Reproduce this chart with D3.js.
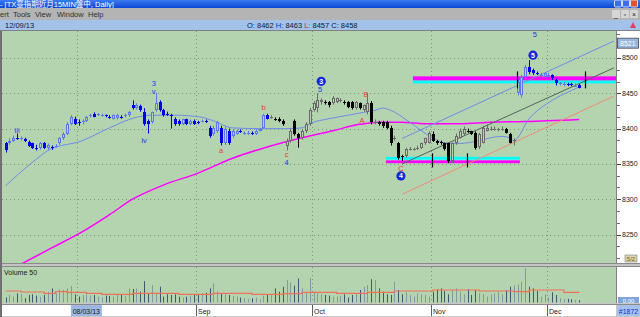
<!DOCTYPE html>
<html>
<head>
<meta charset="utf-8">
<script src="https://cdn.jsdelivr.net/npm/d3@7"></script>
<style>
  html, body { margin: 0; padding: 0; background: #fff; overflow: hidden; }
  svg { display: block; font-family: "Liberation Sans", Arial, "Noto Sans CJK TC", sans-serif; }
</style>
</head>
<body>
<div id="chart"></div>
<script>
// ---------- data (daily bars, index 0 = Jul 13 2013, 149 = Dec 9 2013) ----------
const opens = [8379,8379,8383,8387,8386,8385,8381,8379,8373,8373,8379,8373,8374,8375,8379,8386,8393,8407,8414,8409,
  8409,8411,8419,8421,8420,8419,8419,8417,8414,8415,8417,8418,8419,8433,8429,8432,8423,8411,8409,8426,
  8437,8426,8421,8419,8413,8411,8407,8413,8407,8411,8409,8411,8411,8401,8393,8397,8401,8380,8397,8390,
  8393,8397,8394,8394,8394,8393,8397,8401,8419,8416,8414,8414,8411,8376,8383,8411,8393,8387,8397,8407,
  8426,8429,8437,8438,8437,8436,8437,8440,8438,8437,8437,8429,8436,8426,8423,8436,8409,8409,8409,8409,
  8401,8386,8379,8361,8361,8371,8371,8372,8373,8379,8380,8393,8383,8381,8379,8379,8354,8379,8387,8393,
  8397,8396,8394,8374,8380,8397,8400,8400,8399,8400,8400,8393,8383,8451,8447,8473,8487,8483,8479,8476,
  8473,8476,8476,8469,8464,8463,8463,8463,8461,8462];
const highs = [8381,8386,8390,8393,8389,8387,8383,8380,8377,8381,8381,8379,8376,8378,8388,8395,8409,8419,8417,8413,
  8413,8418,8421,8423,8422,8421,8420,8419,8420,8421,8419,8421,8425,8440,8436,8434,8429,8413,8424,8451,
  8440,8428,8424,8421,8416,8413,8414,8414,8413,8413,8411,8413,8413,8404,8404,8411,8404,8403,8400,8399,
  8399,8399,8396,8397,8396,8399,8401,8421,8421,8419,8416,8416,8413,8386,8400,8413,8394,8399,8409,8429,
  8439,8450,8443,8440,8439,8446,8444,8443,8440,8439,8439,8439,8437,8434,8450,8439,8413,8411,8411,8411,
  8404,8390,8381,8363,8373,8374,8373,8376,8380,8387,8396,8396,8384,8383,8380,8380,8380,8393,8400,8403,
  8400,8397,8396,8394,8404,8406,8403,8403,8401,8403,8401,8394,8386,8469,8476,8490,8497,8485,8481,8479,
  8480,8479,8477,8471,8466,8466,8465,8465,8464,8463];
const lows = [8366,8377,8381,8384,8383,8381,8374,8371,8369,8370,8371,8370,8370,8373,8377,8384,8391,8405,8405,8404,
  8406,8409,8416,8416,8418,8417,8416,8414,8413,8413,8414,8416,8417,8427,8427,8424,8404,8393,8407,8424,
  8424,8417,8418,8400,8404,8404,8405,8405,8405,8405,8406,8409,8408,8387,8390,8394,8376,8377,8377,8387,
  8391,8394,8391,8391,8391,8391,8396,8400,8413,8414,8411,8409,8404,8369,8380,8390,8373,8384,8394,8404,
  8424,8423,8434,8434,8430,8434,8436,8437,8434,8429,8427,8427,8427,8424,8420,8406,8406,8404,8401,8399,
  8376,8383,8356,8354,8359,8369,8369,8370,8371,8377,8379,8381,8377,8377,8369,8351,8351,8377,8386,8391,
  8394,8391,8370,8371,8379,8396,8397,8397,8396,8397,8393,8379,8376,8447,8444,8470,8477,8476,8476,8473,
  8471,8473,8469,8461,8461,8460,8460,8460,8459,8457];
const closes = [8369,8383,8387,8386,8386,8383,8376,8373,8372,8380,8373,8377,8373,8376,8386,8393,8407,8416,8407,8408,
  8411,8416,8419,8417,8420,8419,8418,8416,8419,8419,8416,8419,8423,8429,8433,8426,8407,8407,8423,8436,
  8426,8419,8420,8418,8407,8407,8413,8407,8411,8407,8408,8411,8410,8390,8401,8409,8379,8400,8380,8397,
  8397,8396,8394,8394,8393,8397,8400,8419,8414,8416,8413,8411,8407,8383,8397,8393,8386,8397,8407,8426,
  8436,8440,8440,8437,8433,8443,8443,8440,8437,8430,8429,8437,8429,8433,8436,8409,8409,8407,8404,8401,
  8379,8386,8359,8360,8371,8371,8371,8373,8379,8386,8394,8383,8380,8380,8371,8354,8379,8390,8397,8400,
  8396,8393,8373,8393,8401,8401,8400,8400,8399,8400,8394,8380,8384,8466,8473,8487,8480,8479,8478,8476,
  8479,8476,8471,8464,8464,8463,8462,8462,8461,8458];
// volume, thousand lots
const volumes = [15,23,18,28,25,13,23,25,21,18,23,33,43,28,40,39,43,50,25,18,
  23,25,21,23,18,15,21,20,18,26,23,20,43,41,43,33,65,28,53,25,
  48,18,25,23,25,18,15,18,21,23,25,28,30,43,58,33,28,25,23,20,
  18,15,13,11,13,15,10,21,25,23,43,33,48,68,61,51,73,43,30,75,
  33,28,25,23,21,18,18,20,25,15,23,28,38,48,53,71,68,43,33,25,
  23,63,38,25,31,23,18,28,25,23,18,33,40,43,35,25,40,43,33,25,
  40,23,38,28,25,18,25,28,33,25,38,48,52,55,63,105,48,43,35,18,
  25,15,31,23,13,10,11,10,8,7];
// moving averages as read points [bar index, value]
const shortMA = [[0,8319],[9,8361],[11,8369],[20,8383],[27,8401],[34,8416],[38,8419],[44,8419],[51,8416],[54,8411],
  [59,8401],[66,8400],[73,8400],[77,8401],[79,8407],[84,8414],[89,8419],[93,8423],[96,8426],[98,8429],
  [100,8426],[105,8409],[110,8390],[114,8380],[118,8379],[123,8383],[126,8387],[129,8389],[131,8387],[132,8383],
  [136,8414],[142,8440],[147,8454],[149,8459]];
const longMA = [[3,8205],[12,8231],[20,8254],[27,8278],[33,8300],[41,8320],[50,8337],[59,8358],[68,8374],[77,8387],
  [85,8397],[92,8406],[97,8409],[103,8409],[109,8407],[118,8407],[126,8409],[135,8410],[149,8413]];
const volumeMA = [[0,35],[4,32],[10,28],[13,33],[16,31],[21,28],[25,25],[33,28],[45,25],[54,28],[64,25],[72,27],
  [77,31],[86,28],[94,31],[101,35],[111,38],[123,35],[132,33],[136,38],[145,31],[149,31]];
// drawn objects
const upperBand = {from: 105.8, to: 160, magenta: [8468, 8474], cyan: [8464, 8468]};
const lowerBand = {from: 98.8, to: 133.6, cyan: [8356, 8360], magenta: [8351, 8355]};
const upperBandMarks = [132.8, 150.5];
const lowerBandMarks = [110.7, 119.9];
const channelTop = [[103, 8386], [158, 8524]];
const channelMid = [[103, 8350], [158, 8486]];
const channelLow = [[103, 8307], [158, 8446]];
const waveLabels = [
  {t: "iii", i: 3, v: 8397, c: "blue"}, {t: "3", i: 38.5, v: 8464, c: "blue"}, {t: "v", i: 38.5, v: 8453, c: "blue"},
  {t: "iv", i: 36, v: 8384, c: "blue"}, {t: "a", i: 56, v: 8369, c: "red"}, {t: "b", i: 67, v: 8430, c: "red"},
  {t: "c", i: 73, v: 8363, c: "red"}, {t: "4", i: 73, v: 8352, c: "blue"}, {t: "5", i: 81.7, v: 8456, c: "blue"},
  {t: "B", i: 93.6, v: 8449, c: "red"}, {t: "A", i: 92.6, v: 8411, c: "red"}, {t: "C", i: 102.7, v: 8344, c: "red"},
  {t: "5", i: 137.5, v: 8534, c: "blue"}
];
const waveCircles = [{t: "3", i: 82, v: 8467}, {t: "4", i: 102.7, v: 8333}, {t: "5", i: 137, v: 8504}];
const colorBreaks = [69, 133];   // bars 69..132 drawn black, the rest blue
const priceTicks = [8250, 8300, 8350, 8400, 8450, 8500];
const lastMark = 8521;
const monthTicks = [19, 50, 80, 111, 141];
const monthLabels = ["Aug", "Sep", "Oct", "Nov", "Dec"];
const cursorDate = {i: 21, label: "08/03/13"};
const quote = {date: "12/09/13", o: 8462, h: 8463, l: 8457, c: 8458};

// ---------- layout ----------
const W = 640, H = 317;
const plot = {x0: 2, x1: 616, y0: 31, y1: 263};
const vol = {y0: 267, y1: 303};
const green = "#b4d4b0";
const gridCol = "#7e977c";

const svg = d3.select("#chart").append("svg").attr("width", W).attr("height", H);

const x = d3.scaleLinear().domain([0, 149]).range([5.5, 579.2]);
const y = d3.scaleLinear().domain([8250, 8500]).range([234.5, 58]);
const yv = d3.scaleLinear().domain([0, 105]).range([302.5, 268]);

const defs = svg.append("defs");
const tg = defs.append("linearGradient").attr("id", "titleGrad").attr("x1", 0).attr("y1", 0).attr("x2", 0).attr("y2", 1);
tg.append("stop").attr("offset", "0%").attr("stop-color", "#3a7cf2");
tg.append("stop").attr("offset", "100%").attr("stop-color", "#0a48d4");
defs.append("clipPath").attr("id", "plotClip").append("rect")
  .attr("x", plot.x0).attr("y", plot.y0).attr("width", plot.x1 - plot.x0).attr("height", plot.y1 - plot.y0);
defs.append("clipPath").attr("id", "volClip").append("rect")
  .attr("x", plot.x0).attr("y", vol.y0).attr("width", plot.x1 - plot.x0).attr("height", vol.y1 - vol.y0);

// ---------- window chrome ----------
svg.append("rect").attr("width", W).attr("height", H).attr("fill", "#c8c8c8");
svg.append("rect").attr("x", 0).attr("y", 0).attr("width", W).attr("height", 8).attr("fill", "url(#titleGrad)");
svg.append("text").attr("x", 0).attr("y", 7).attr("fill", "#fff").attr("font-size", 7.5)
  .text("- [TX臺指期近月15MIN盤中, Daily]");
[[614, "#3a6ee8"], [622, "#3a6ee8"], [630, "#e0502a"]].forEach(([bx, col]) => {
  svg.append("rect").attr("x", bx + 0.5).attr("y", 0).attr("width", 7).attr("height", 7)
    .attr("fill", col).attr("stroke", "#fff").attr("stroke-width", 0.8).attr("rx", 1);
});
svg.append("rect").attr("x", 0).attr("y", 8).attr("width", W).attr("height", 12).attr("fill", "#b4b4b4");
[["ert", 0], ["Tools", 13], ["View", 35], ["Window", 57], ["Help", 88]].forEach(([t, mx]) => {
  svg.append("text").attr("x", mx).attr("y", 17).attr("font-size", 7.5).attr("fill", "#303030").text(t);
});
[["_", 612], ["▫", 621], ["×", 630]].forEach(([t, bx]) => {
  svg.append("rect").attr("x", bx).attr("y", 10).attr("width", 8).attr("height", 8).attr("fill", "#d6d6d6");
  svg.append("text").attr("x", bx + 4).attr("y", 16.5).attr("font-size", 7).attr("text-anchor", "middle")
    .attr("fill", "#222").text(t);
});
svg.append("rect").attr("x", 0).attr("y", 20).attr("width", W).attr("height", 10).attr("fill", "#a2c2ea");
svg.append("line").attr("x1", 0).attr("x2", W).attr("y1", 30.5).attr("y2", 30.5).attr("stroke", "#808080");

const info = svg.append("g").attr("font-size", 7.5).attr("fill", "#101830");
info.append("text").attr("x", 5).attr("y", 27.5).text(quote.date);
const q = info.append("text").attr("x", 247).attr("y", 27.5);
q.append("tspan").text("O: " + quote.o + "   ");
q.append("tspan").attr("fill", "#1030d0").text("H: ");
q.append("tspan").text(quote.h + "   ");
q.append("tspan").attr("fill", "#e02020").text("L: ");
q.append("tspan").text(quote.l + "   C: " + quote.c);
info.append("path").attr("d", "M630,28 L633,22 L636,28 Z").attr("fill", "#e04060");

// ---------- panels ----------
svg.append("rect").attr("x", 0).attr("y", plot.y0).attr("width", 2).attr("height", H - plot.y0).attr("fill", "#707070");
svg.append("rect").attr("x", plot.x0).attr("y", plot.y0).attr("width", plot.x1 - plot.x0)
  .attr("height", plot.y1 - plot.y0).attr("fill", green);
svg.append("rect").attr("x", plot.x1).attr("y", plot.y0).attr("width", W - plot.x1)
  .attr("height", plot.y1 - plot.y0).attr("fill", "#fff");
svg.append("rect").attr("x", 2).attr("y", plot.y1).attr("width", W - 2).attr("height", vol.y0 - plot.y1).attr("fill", "#c4c4c4");
svg.append("line").attr("x1", 2).attr("x2", W).attr("y1", plot.y1 + 0.5).attr("y2", plot.y1 + 0.5).attr("stroke", "#8a8a8a");
svg.append("line").attr("x1", 2).attr("x2", W).attr("y1", vol.y0 - 0.5).attr("y2", vol.y0 - 0.5).attr("stroke", "#8a8a8a");
svg.append("rect").attr("x", plot.x0).attr("y", vol.y0).attr("width", plot.x1 - plot.x0)
  .attr("height", vol.y1 - vol.y0).attr("fill", green);
svg.append("rect").attr("x", plot.x1).attr("y", vol.y0).attr("width", W - plot.x1)
  .attr("height", vol.y1 - vol.y0).attr("fill", "#fff");
svg.append("rect").attr("x", 2).attr("y", 305).attr("width", plot.x1 - 2).attr("height", 11).attr("fill", "#fff");
svg.append("line").attr("x1", 2).attr("x2", W).attr("y1", 304.5).attr("y2", 304.5).attr("stroke", "#8a8a8a");
[plot.x1 + 0.5].forEach(lx => {
  svg.append("line").attr("x1", lx).attr("x2", lx).attr("y1", plot.y0).attr("y2", plot.y1).attr("stroke", "#808080");
  svg.append("line").attr("x1", lx).attr("x2", lx).attr("y1", vol.y0).attr("y2", vol.y1).attr("stroke", "#808080");
});

// ---------- grid ----------
const grid = svg.append("g").attr("stroke", gridCol).attr("stroke-dasharray", "1,3");
grid.selectAll("line.h").data(priceTicks).join("line")
  .attr("x1", plot.x0).attr("x2", plot.x1)
  .attr("y1", d => Math.round(y(d)) + 0.5).attr("y2", d => Math.round(y(d)) + 0.5);
grid.selectAll("line.v").data(monthTicks).join("line")
  .attr("x1", d => Math.round(x(d - 0.4)) + 0.5).attr("x2", d => Math.round(x(d - 0.4)) + 0.5)
  .attr("y1", plot.y0).attr("y2", plot.y1);
const vgrid = svg.append("g").attr("stroke", gridCol).attr("stroke-dasharray", "1,3");
vgrid.selectAll("line").data(monthTicks).join("line")
  .attr("x1", d => Math.round(x(d - 0.4)) + 0.5).attr("x2", d => Math.round(x(d - 0.4)) + 0.5)
  .attr("y1", vol.y0).attr("y2", vol.y1);

// ---------- price pane ----------
const pane = svg.append("g").attr("clip-path", "url(#plotClip)");
const line = d3.line().x(d => x(d[0])).y(d => y(d[1]));
const smooth = d3.line().x(d => x(d[0])).y(d => y(d[1])).curve(d3.curveMonotoneX);

// horizontal zones
[[upperBand.magenta, "#ff00ff", upperBand], [upperBand.cyan, "#00ffff", upperBand],
 [lowerBand.cyan, "#00ffff", lowerBand], [lowerBand.magenta, "#ff00ff", lowerBand]].forEach(([r, col, b]) => {
  pane.append("rect").attr("x", x(b.from)).attr("width", x(b.to) - x(b.from))
    .attr("y", y(r[1])).attr("height", y(r[0]) - y(r[1])).attr("fill", col);
});

// moving averages
pane.append("path").datum(longMA).attr("d", smooth).attr("fill", "none")
  .attr("stroke", "#ff00ff").attr("stroke-width", 1.5);
pane.append("path").datum(shortMA).attr("d", smooth).attr("fill", "none")
  .attr("stroke", "#6f8ce8").attr("stroke-width", 1);

// channel lines
pane.append("path").datum(channelTop).attr("d", line).attr("stroke", "#6f8ce8").attr("fill", "none");
pane.append("path").datum(channelMid).attr("d", line).attr("stroke", "#56625a").attr("fill", "none");
pane.append("path").datum(channelLow).attr("d", line).attr("stroke", "#f08a78").attr("fill", "none");

// candles
const bars = opens.map((o, i) => ({i, o, h: highs[i], l: lows[i], c: closes[i]}));
const isBlack = d => d.i >= colorBreaks[0] && d.i < colorBreaks[1];
const upCol = d => isBlack(d) ? "#6a6a6a" : "#5a78f0";
const dnCol = d => isBlack(d) ? "#000000" : "#0000e8";
const px = d => Math.round(x(d.i));

pane.selectAll("line.wick").data(bars).join("line").attr("class", "wick")
  .attr("x1", d => px(d) + 0.5).attr("x2", d => px(d) + 0.5)
  .attr("y1", d => y(d.h)).attr("y2", d => y(d.l))
  .attr("stroke", d => d.c >= d.o ? upCol(d) : dnCol(d));

pane.selectAll("rect.body").data(bars).join("rect").attr("class", "body")
  .each(function (d) {
    const s = d3.select(this);
    const top = Math.round(y(Math.max(d.o, d.c)));
    const bot = Math.round(y(Math.min(d.o, d.c)));
    if (bot - top < 2) {
      s.attr("x", px(d) - 1).attr("width", 3).attr("y", top).attr("height", Math.max(1, bot - top))
        .attr("fill", d.c >= d.o ? upCol(d) : dnCol(d));
    } else if (d.c > d.o) {
      s.attr("x", px(d) - 0.5).attr("width", 2).attr("y", top + 0.5).attr("height", bot - top - 1)
        .attr("fill", green).attr("stroke", upCol(d)).attr("stroke-width", 1);
    } else {
      s.attr("x", px(d) - 1).attr("width", 3).attr("y", top).attr("height", bot - top)
        .attr("fill", dnCol(d));
    }
  });

// zone pivot marks
upperBandMarks.forEach(i => {
  pane.append("line").attr("x1", Math.round(x(i)) + 0.5).attr("x2", Math.round(x(i)) + 0.5)
    .attr("y1", y(upperBand.magenta[1] + 7)).attr("y2", y(upperBand.cyan[0] - 7))
    .attr("stroke", "#000").attr("stroke-width", 1.2);
});
lowerBandMarks.forEach(i => {
  pane.append("line").attr("x1", Math.round(x(i)) + 0.5).attr("x2", Math.round(x(i)) + 0.5)
    .attr("y1", y(lowerBand.cyan[1] + 5)).attr("y2", y(lowerBand.magenta[0] - 6))
    .attr("stroke", "#000").attr("stroke-width", 1.2);
});

// wave labels
pane.selectAll("text.wave").data(waveLabels).join("text").attr("class", "wave")
  .attr("x", d => x(d.i)).attr("y", d => y(d.v)).attr("dy", "0.35em")
  .attr("text-anchor", "middle").attr("font-size", 7.5)
  .attr("fill", d => d.c === "red" ? "#e8402a" : "#2038e0").text(d => d.t);
const circ = pane.selectAll("g.circ").data(waveCircles).join("g").attr("class", "circ")
  .attr("transform", d => `translate(${x(d.i)},${y(d.v)})`);
circ.append("circle").attr("r", 4.6).attr("fill", "#1028d8");
circ.append("text").attr("text-anchor", "middle").attr("dy", "0.35em").attr("font-size", 7)
  .attr("font-weight", "bold").attr("fill", "#fff").text(d => d.t);

// ---------- price axis ----------
const axis = svg.append("g").attr("font-size", 7).attr("fill", "#202020");
const minorTicks = d3.range(8200, 8540, 50 / 3).filter(v => y(v) > plot.y0 + 2 && y(v) < plot.y1 - 2);
axis.selectAll("line.minor").data(minorTicks).join("line")
  .attr("x1", plot.x1 + 1).attr("x2", plot.x1 + 4)
  .attr("y1", d => Math.round(y(d)) + 0.5).attr("y2", d => Math.round(y(d)) + 0.5).attr("stroke", "#707070");
axis.selectAll("line.major").data(priceTicks).join("line")
  .attr("x1", plot.x1 + 1).attr("x2", plot.x1 + 5)
  .attr("y1", d => Math.round(y(d)) + 0.5).attr("y2", d => Math.round(y(d)) + 0.5).attr("stroke", "#404040");
axis.selectAll("text").data(priceTicks).join("text")
  .attr("x", plot.x1 + 6).attr("y", d => y(d)).attr("dy", "0.35em").text(d => d);
svg.append("rect").attr("x", plot.x1 + 1.5).attr("y", y(lastMark) - 5).attr("width", 21).attr("height", 10)
  .attr("fill", "#98b6de").attr("stroke", "#404858").attr("stroke-width", 0.8);
svg.append("text").attr("x", plot.x1 + 4).attr("y", y(lastMark)).attr("dy", "0.35em")
  .attr("font-size", 7).attr("fill", "#fff").text(lastMark);
svg.append("rect").attr("x", 625).attr("y", 255).attr("width", 12).attr("height", 7)
  .attr("fill", "#d8d4b0").attr("stroke", "#808080").attr("stroke-width", 0.6);
svg.append("text").attr("x", 631).attr("y", 261).attr("text-anchor", "middle").attr("font-size", 6)
  .attr("fill", "#806000").text("5/2");

// ---------- volume pane ----------
const vpane = svg.append("g").attr("clip-path", "url(#volClip)");
vpane.selectAll("line.vb").data(bars).join("line").attr("class", "vb")
  .attr("x1", d => px(d) + 0.5).attr("x2", d => px(d) + 0.5)
  .attr("y1", yv(0)).attr("y2", d => yv(volumes[d.i]))
  .attr("stroke", d => d.c >= d.o ? "#8896a0" : "#405474");
vpane.append("path").datum(volumeMA)
  .attr("d", d3.line().x(d => x(d[0])).y(d => yv(d[1])).curve(d3.curveStepAfter))
  .attr("fill", "none").attr("stroke", "#f0705a").attr("stroke-width", 1.2);
svg.append("text").attr("x", 4).attr("y", 275).attr("font-size", 7).attr("fill", "#202020").text("Volume 50");
svg.append("rect").attr("x", 618).attr("y", 297).attr("width", 21).attr("height", 6).attr("fill", "#7fa4dc");
svg.append("text").attr("x", 628.5).attr("y", 302.5).attr("text-anchor", "middle").attr("font-size", 6)
  .attr("fill", "#fff").text("0.00");

// ---------- date axis ----------
const dax = svg.append("g").attr("font-size", 7).attr("fill", "#202020");
dax.selectAll("line").data(monthTicks.slice(1)).join("line")
  .attr("x1", d => Math.round(x(d - 0.4)) + 0.5).attr("x2", d => Math.round(x(d - 0.4)) + 0.5)
  .attr("y1", 305).attr("y2", 316).attr("stroke", "#606060");
dax.selectAll("text").data(monthTicks.slice(1)).join("text")
  .attr("x", d => Math.round(x(d - 0.4)) + 2).attr("y", 314).text((d, k) => monthLabels[k + 1]);
dax.append("rect").attr("x", x(cursorDate.i) - 15.5).attr("y", 305).attr("width", 31).attr("height", 11)
  .attr("fill", "#9cb8e0");
dax.append("text").attr("x", x(cursorDate.i)).attr("y", 314).attr("text-anchor", "middle").text(cursorDate.label);
svg.append("rect").attr("x", 617).attr("y", 305).attr("width", 23).attr("height", 11).attr("fill", "#a6c2ec");
svg.append("text").attr("x", 628.5).attr("y", 314).attr("text-anchor", "middle").attr("font-size", 7)
  .attr("fill", "#1030c0").text("#1872");
</script>
</body>
</html>
